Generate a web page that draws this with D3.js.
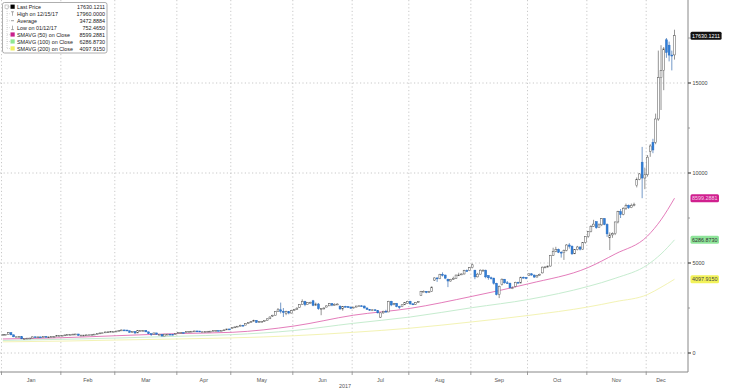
<!DOCTYPE html>
<html><head><meta charset="utf-8">
<script src="https://cdnjs.cloudflare.com/ajax/libs/d3/7.8.5/d3.min.js"></script>
<style>html,body{margin:0;padding:0;background:#fff;}svg{display:block;font-family:"Liberation Sans",Arial,sans-serif;}</style>
</head><body><svg id="c" width="730" height="391"></svg>
<script>
// ---- data (weekday sessions, 2017-01-02 .. 2017-12-15) ----
const monthLabels = ["Jan","Feb","Mar","Apr","May","Jun","Jul","Aug","Sep","Oct","Nov","Dec"];
const yTicks = [0, 5000, 10000, 15000];
const yMinorTicks = [2500, 7500, 12500, 17500];

const opens = [
 1000,1020,1040,1130,1010,900,900,905,790,810,825,830,900,875,895,890,920,890,895,915,918,965,
 965,985,1005,1020,1025,1050,1055,980,995,995,1008,1010,1030,1050,1080,1115,1120,1170,1175,1190,
 1190,1220,1250,1280,1275,1235,1150,1190,1115,1240,1245,1255,1175,1070,1045,1115,1040,1040,940,1045,1045,1040,1035,
 1080,1140,1140,1135,1190,1195,1210,1225,1220,1175,1180,1200,1210,1215,1240,1250,1245,1260,1285,1335,
 1360,1420,1450,1490,1540,1550,1640,1700,1760,1810,1700,1740,1760,1820,1900,2050,2100,2300,2400,2320,2200,2300,2220,
 2350,2420,2540,2690,2860,2690,2800,2900,2650,2720,2460,2480,2550,2620,2740,2660,2700,2600,2450,2590,2570,2550,
 2500,2550,2610,2620,2610,2500,2420,2370,2400,2360,1990,2230,2320,2280,2870,2750,2760,2580,2570,2680,2750,
 2870,2730,2700,2810,3200,3420,3430,3360,3430,4050,4170,4130,4370,4330,4100,4000,4090,4150,4330,4370,4390,4580,4570,
 4740,4600,4230,4380,4600,4600,4300,4180,4160,3870,3250,3800,4100,3900,3880,3620,3700,3930,3890,4210,4190,
 4300,4400,4330,4220,4320,4450,4770,4780,4830,5430,5650,5750,5600,5570,5700,6000,5930,5510,5740,5890,5750,6130,
 6470,6740,7030,7300,6960,7120,7460,7140,6400,6560,6630,7280,7850,7700,8040,8200,8070,8200,9300,9650,10600,9720,
 9900,11200,11700,11700,13000,15300,15700,17400,17100,16550,16560
];
const highs = [
 1035,1045,1160,1140,1020,915,910,910,830,835,840,910,905,905,900,925,925,905,920,925,970,975,
 990,1010,1025,1035,1055,1065,1060,1000,1005,1012,1015,1035,1055,1085,1125,1130,1180,1200,1195,1200,
 1230,1260,1295,1290,1280,1240,1200,1200,1250,1260,1265,1260,1180,1080,1125,1120,1060,1050,1060,1060,1055,1050,1090,
 1150,1150,1150,1200,1200,1215,1230,1230,1225,1185,1205,1215,1220,1245,1255,1255,1265,1295,1345,1340,
 1430,1460,1500,1580,1560,1650,1720,1770,1850,1820,1760,1780,1830,1920,2030,2120,2320,2500,2800,2500,2350,2320,2400,
 2450,2540,2700,2980,2900,2820,2850,2950,2800,2780,2500,2530,2640,2780,2770,2760,2760,2650,2600,2620,2600,2580,
 2560,2620,2640,2660,2630,2530,2430,2410,2430,2380,2250,2350,2400,2900,2900,2780,2780,2620,2700,2820,2900,
 2900,2760,2830,2890,3450,3480,3440,3450,3700,4200,4200,4400,4480,4350,4120,4120,4240,4350,4460,4420,4620,4640,4770,
 4970,4620,4450,4650,4650,4630,4320,4240,4180,3900,3750,4140,4110,4000,3900,3700,3960,3960,4240,4240,4220,
 4410,4430,4360,4340,4410,4800,4810,4860,5450,5850,5900,5800,5650,5750,6050,6100,5980,5750,5950,5920,6150,6480,
 6760,7100,7400,7300,7200,7500,7500,7200,6700,6700,7300,7900,8000,8100,8300,8250,8300,8350,9750,10000,11450,10300,
 11000,11600,11900,13300,16800,17100,17000,17500,17300,16800,17960
];
const lows = [
 995,1015,1035,990,880,890,895,770,752,800,820,825,865,870,885,885,880,885,890,910,915,955,
 960,980,1000,1010,1020,1040,960,975,985,990,1000,1005,1025,1045,1075,1105,1115,1130,1170,1180,
 1185,1215,1245,1260,1225,1130,1140,1050,1110,1230,1240,1165,1060,950,1040,1030,1030,930,940,1035,1030,1025,1030,
 1075,1130,1120,1130,1180,1185,1200,1210,1165,1165,1175,1195,1205,1210,1235,1240,1240,1255,1280,1310,
 1350,1410,1440,1480,1500,1540,1620,1690,1750,1680,1690,1730,1740,1810,1890,2000,2080,2280,2200,2000,2100,2150,2200,
 2330,2400,2520,2680,2600,2680,2780,2600,2620,2400,2100,2420,2540,2610,2600,2640,2680,2400,2350,2550,2540,2460,
 2480,2540,2590,2600,2480,2400,2350,2330,2350,2200,1950,2180,2260,2270,2600,2650,2540,2450,2550,2660,2740,
 2680,2660,2680,2790,3180,3390,3320,3340,3400,4000,3950,4100,4250,4100,3660,3960,4060,4130,4280,4330,4360,4530,4550,
 4700,4100,4200,4360,4540,4150,4070,4080,3800,3200,3050,3750,3850,3850,3580,3550,3650,3860,3870,4140,4100,
 4280,4300,4170,4200,4300,4420,4720,4740,4800,5400,5600,5550,5300,5170,5650,5800,5450,5500,5700,5700,5730,6080,
 6400,6700,7000,6900,6950,7050,7100,6450,5720,6400,6550,7200,7500,7650,7950,8000,8050,8150,9200,9600,8600,9100,
 9800,10900,11100,11600,12900,13500,14600,16400,16200,15700,16300
];
const closes = [
 1020,1040,1130,1010,900,900,905,790,810,825,830,900,875,895,890,920,890,895,915,918,965,965,
 985,1005,1020,1025,1050,1055,980,995,995,1008,1010,1030,1050,1080,1115,1120,1170,1175,1190,1190,
 1220,1250,1280,1275,1235,1150,1190,1115,1240,1245,1255,1175,1070,1045,1115,1040,1040,940,1045,1045,1040,1035,1080,
 1140,1140,1135,1190,1195,1210,1225,1220,1175,1180,1200,1210,1215,1240,1250,1245,1260,1285,1335,1320,
 1420,1450,1490,1540,1510,1640,1700,1760,1810,1700,1740,1760,1820,1900,2000,2100,2300,2400,2320,2250,2300,2220,2350,
 2420,2490,2690,2860,2690,2800,2810,2650,2720,2460,2480,2500,2620,2740,2660,2700,2720,2450,2590,2570,2550,2490,
 2550,2610,2620,2610,2500,2420,2370,2400,2360,2230,2230,2320,2280,2870,2670,2760,2580,2570,2680,2810,2870,
 2730,2700,2810,2860,3420,3430,3360,3430,3660,4170,4130,4370,4330,4160,4000,4090,4150,4330,4340,4390,4580,4570,4740,
 4900,4230,4380,4600,4600,4230,4180,4160,3870,3250,3700,4100,3900,3880,3620,3620,3930,3890,4210,4190,4160,
 4400,4330,4220,4320,4370,4770,4780,4830,5430,5650,5750,5600,5570,5700,6000,5930,5510,5740,5890,5770,6130,6470,
 6740,7030,7160,6960,7120,7460,7140,6620,6560,6630,7280,7850,7700,8040,8200,8070,8200,8250,9650,9950,9720,9900,
 10880,11500,11280,13000,15300,15700,16900,16700,16550,16500,17630
];

// moving averages at selected sessions
const smaDates = ["2017-01-02","2017-02-01","2017-03-01","2017-04-03","2017-05-01","2017-06-01","2017-07-03","2017-08-01","2017-09-01","2017-10-02","2017-11-01","2017-11-15","2017-12-01","2017-12-08","2017-12-15"];
const sma50  = [780, 850, 960,1080,1150,1500,2100,2480,3150,3850,4750,5500,6500,7400,8599.2881];
const sma100 = [700, 760, 830, 930,1020,1250,1650,2000,2520,2980,3700,4150,4900,5500,6286.8730];
const sma200 = [620, 660, 720, 780, 840, 960,1150,1380,1730,2090,2560,2850,3250,3650,4097.9150];

const legendRows = [
 {label:"Last Price", value:"17630.1211", icon:"sq", color:"#000"},
 {label:"High on 12/15/17", value:"17960.0000", icon:"T"},
 {label:"Average", value:"3472.8884", icon:"dash"},
 {label:"Low on 01/12/17", value:"752.4650", icon:"down"},
 {label:"SMAVG (50) on Close", value:"8599.2881", icon:"sq", color:"#c8208c"},
 {label:"SMAVG (100) on Close", value:"6286.8730", icon:"sq", color:"#90e890"},
 {label:"SMAVG (200) on Close", value:"4097.9150", icon:"sq", color:"#f0f060"}
];

// ---- build sessions ----
const fmt = d3.timeFormat("%Y-%m-%d");
const sessions = d3.timeDays(new Date(2017,0,2), new Date(2017,11,16)).filter(d => d.getDay()!==0 && d.getDay()!==6);
const data = sessions.map((d,i)=>({date:d, i, o:opens[i], h:highs[i], l:lows[i], c:closes[i]}));
const idxOf = {}; sessions.forEach((d,i)=> idxOf[fmt(d)] = i);

const svg = d3.select("#c");
const plotR = 688, plotB = 372;
const FS = "5.4px";
const x = d3.scaleLinear().domain([-0.5, 254]).range([1.5, plotR]);
const y = d3.scaleLinear().domain([0, 15000]).range([353, 83]);

// gridlines
const grid = svg.append("g");
const monthFirst = monthLabels.map((m,k)=> sessions.findIndex(d=>d.getMonth()===k));
const monthLast = monthLabels.map((m,k)=> { let last=-1; sessions.forEach((d,i)=>{ if(d.getMonth()===k) last=i; }); return last; });
monthFirst.forEach(fi=>{
  const xx = x(fi-0.5);
  grid.append("line").attr("x1",xx).attr("x2",xx).attr("y1",0).attr("y2",plotB)
    .attr("stroke","#bbb").attr("stroke-width",0.8).attr("stroke-dasharray","1.2,2.4");
});
yTicks.forEach(v=>{
  grid.append("line").attr("x1",0).attr("x2",plotR).attr("y1",y(v)).attr("y2",y(v))
    .attr("stroke","#bbb").attr("stroke-width",0.8).attr("stroke-dasharray","1.2,2.4");
});

// moving averages
const smaLine = arr => d3.line().curve(d3.curveMonotoneX)
  .x((v,k)=> x(idxOf[smaDates[k]])).y(v=> y(v))(arr);
svg.append("path").attr("d", smaLine(sma200)).attr("fill","none").attr("stroke","#f3f3b4").attr("stroke-width",1);
svg.append("path").attr("d", smaLine(sma100)).attr("fill","none").attr("stroke","#c6eccf").attr("stroke-width",1);
svg.append("path").attr("d", smaLine(sma50)).attr("fill","none").attr("stroke","#dc5aa8").attr("stroke-width",0.8);

// candles
const bw = 1.9;
const cg = svg.append("g");
data.forEach(d=>{
  const cx = x(d.i);
  const up = d.c >= d.o;
  const hi = Math.max(d.h, d.o, d.c), lo = Math.min(d.l, d.o, d.c);
  cg.append("line").attr("x1",cx).attr("x2",cx).attr("y1",y(hi)).attr("y2",y(lo))
    .attr("stroke", up ? "#666" : "#3a6fb0").attr("stroke-width",0.7);
  const top = y(Math.max(d.o,d.c)), bot = y(Math.min(d.o,d.c));
  cg.append("rect").attr("x",cx-bw/2).attr("y",top).attr("width",bw).attr("height",Math.max(0.9, bot-top))
    .attr("fill", up ? "#fff" : "#2f7fd8").attr("stroke", up ? "#555" : "#2a6cc0").attr("stroke-width",0.5);
});

// axes frame
svg.append("line").attr("x1",0).attr("x2",plotR).attr("y1",plotB).attr("y2",plotB).attr("stroke","#888").attr("stroke-width",1);
svg.append("line").attr("x1",plotR).attr("x2",plotR).attr("y1",0).attr("y2",plotB).attr("stroke","#888").attr("stroke-width",1);

// x axis ticks + labels
monthFirst.forEach(fi=>{
  const xx = x(fi-0.5);
  svg.append("line").attr("x1",xx).attr("x2",xx).attr("y1",plotB).attr("y2",plotB+3).attr("stroke","#888").attr("stroke-width",0.8);
});
monthLabels.forEach((m,k)=>{
  const cx = (x(monthFirst[k]) + x(monthLast[k]))/2;
  svg.append("text").attr("x",cx).attr("y",382).attr("text-anchor","middle")
    .attr("font-size",FS).attr("fill","#555").text(m);
});
svg.append("text").attr("x",345).attr("y",388).attr("text-anchor","middle")
  .attr("font-size",FS).attr("fill","#555").text("2017");

// y axis ticks + labels
yTicks.forEach(v=>{
  svg.append("line").attr("x1",plotR).attr("x2",plotR+3).attr("y1",y(v)).attr("y2",y(v)).attr("stroke","#444").attr("stroke-width",1.2);
  svg.append("text").attr("x",plotR+4.5).attr("y",y(v)+2).attr("font-size",FS).attr("fill","#444").text(v);
});
yMinorTicks.forEach(v=>{
  if (y(v) < 0) return;
  svg.append("line").attr("x1",plotR).attr("x2",plotR+2).attr("y1",y(v)).attr("y2",y(v)).attr("stroke","#888").attr("stroke-width",0.8);
});

// value tags
const tags = [
  {v:closes[closes.length-1], text:"17630.1211", fill:"#111", tc:"#fff"},
  {v:sma50[sma50.length-1], text:"8599.2881", fill:"#d0208e", tc:"#f6d0ea"},
  {v:sma100[sma100.length-1], text:"6286.8730", fill:"#8fe59a", tc:"#333"},
  {v:sma200[sma200.length-1], text:"4097.9150", fill:"#f2f25a", tc:"#444"}
];
tags.forEach(t=>{
  const yy = y(t.v);
  const r = svg.append("rect").attr("x",690.5).attr("y",yy-4).attr("height",8).attr("rx",1.5).attr("fill",t.fill);
  const tx = svg.append("text").attr("x",692).attr("y",yy+2).attr("font-size",FS).attr("fill",t.tc).text(t.text);
  r.attr("width", tx.node().getComputedTextLength()+3);
});

// legend
const lg = svg.append("g");
lg.append("rect").attr("x",2.5).attr("y",2.5).attr("width",104.5).attr("height",50.5).attr("rx",2)
  .attr("fill","#fff").attr("stroke","#9a9a9a").attr("stroke-width",0.8);
lg.append("line").attr("x1",7).attr("x2",7).attr("y1",9).attr("y2",49).attr("stroke","#aaa").attr("stroke-width",0.6).attr("stroke-dasharray","0.8,1.2");
lg.append("rect").attr("x",5).attr("y",5).attr("width",3.5).attr("height",3.5).attr("fill","#fff").attr("stroke","#999").attr("stroke-width",0.5);
legendRows.forEach((r,k)=>{
  const cy = 6.8 + k*6.95;
  const ix = 12.5;
  if (r.icon==="sq") lg.append("rect").attr("x",ix-2).attr("y",cy-2.2).attr("width",4.2).attr("height",4.2).attr("fill",r.color);
  if (r.icon==="T") {
    lg.append("line").attr("x1",ix-1.5).attr("x2",ix+1.5).attr("y1",cy-2).attr("y2",cy-2).attr("stroke","#777").attr("stroke-width",0.6);
    lg.append("line").attr("x1",ix).attr("x2",ix).attr("y1",cy-2).attr("y2",cy+2).attr("stroke","#777").attr("stroke-width",0.6);
  }
  if (r.icon==="dash") lg.append("line").attr("x1",ix-1.5).attr("x2",ix+1.5).attr("y1",cy).attr("y2",cy).attr("stroke","#777").attr("stroke-width",0.7);
  if (r.icon==="down") {
    lg.append("line").attr("x1",ix).attr("x2",ix).attr("y1",cy-2).attr("y2",cy+2).attr("stroke","#777").attr("stroke-width",0.6);
    lg.append("line").attr("x1",ix-1.5).attr("x2",ix+1.5).attr("y1",cy+2).attr("y2",cy+2).attr("stroke","#777").attr("stroke-width",0.6);
  }
  lg.append("line").attr("x1",7).attr("x2",10).attr("y1",cy).attr("y2",cy).attr("stroke","#aaa").attr("stroke-width",0.5).attr("stroke-dasharray","0.8,1.2");
  lg.append("text").attr("x",17).attr("y",cy+2).attr("font-size",FS).attr("fill","#222").text(r.label);
  lg.append("text").attr("x",105).attr("y",cy+2).attr("text-anchor","end").attr("font-size",FS).attr("fill","#222").text(r.value);
});
</script></body></html>
